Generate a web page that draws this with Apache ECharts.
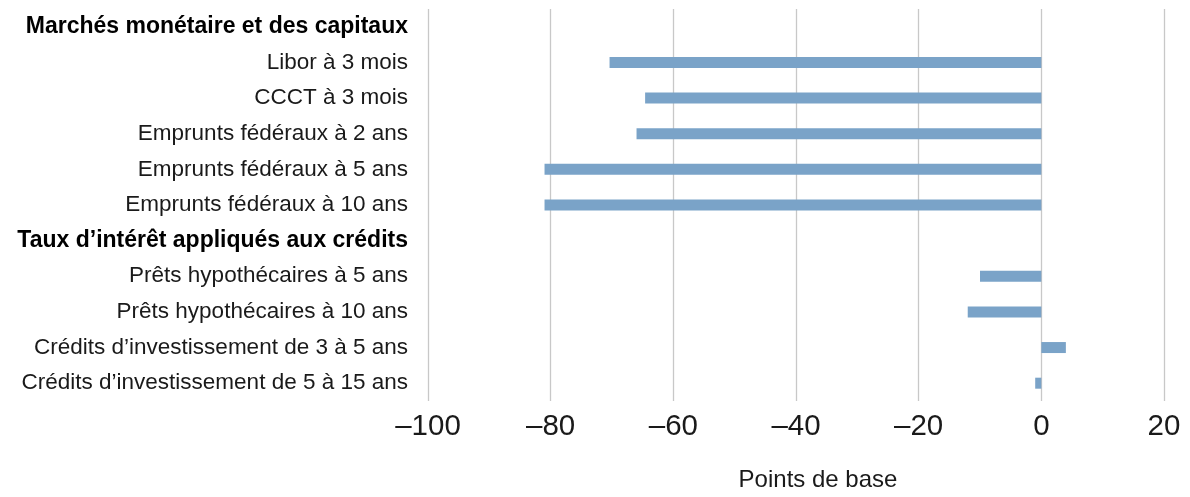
<!DOCTYPE html>
<html>
<head>
<meta charset="utf-8">
<script src="https://cdn.jsdelivr.net/npm/echarts@6/dist/echarts.min.js"></script>
<style>html,body{margin:0;padding:0;background:#fff}#c{width:1190px;height:497px}</style>
</head>
<body>
<div id="c"></div>
<script>
var categories = [
  "Marchés monétaire et des capitaux",
  "Libor à 3 mois",
  "CCCT à 3 mois",
  "Emprunts fédéraux à 2 ans",
  "Emprunts fédéraux à 5 ans",
  "Emprunts fédéraux à 10 ans",
  "Taux d’intérêt appliqués aux crédits",
  "Prêts hypothécaires à 5 ans",
  "Prêts hypothécaires à 10 ans",
  "Crédits d’investissement de 3 à 5 ans",
  "Crédits d’investissement de 5 à 15 ans"
];
var headers = ["Marchés monétaire et des capitaux", "Taux d’intérêt appliqués aux crédits"];
var values = [null, -70.4, -64.6, -66, -81, -81, null, -10, -12, 4, -1];
var xTicks = { min: -100, max: 20, interval: 20 };
var axisName = "Points de base";

var FONT = '"Liberation Sans", Arial, sans-serif';
var chart = echarts.init(document.getElementById('c'));
chart.setOption({
  animation: false,
  grid: { left: 428, right: 26, top: 9, bottom: 90, containLabel: false },
  xAxis: {
    type: 'value',
    min: xTicks.min, max: xTicks.max, interval: xTicks.interval,
    axisLine: { show: false },
    axisTick: { show: false },
    splitLine: { show: true, lineStyle: { color: '#c8c8c8', width: 1.3 } },
    axisLabel: {
      margin: 11,
      fontFamily: FONT,
      fontSize: 29.5,
      color: '#1a1a1a',
      formatter: function (v) { return String(v).replace('-', '\u2013'); }
    },
    name: axisName,
    nameLocation: 'middle',
    nameGap: 67,
    nameTextStyle: {
      fontFamily: FONT,
      fontSize: 24,
      color: '#1a1a1a',
      padding: [0, 0, 0, 44]
    }
  },
  yAxis: {
    type: 'category',
    inverse: true,
    data: categories,
    axisLine: { show: false },
    axisTick: { show: false },
    splitLine: { show: false },
    axisLabel: {
      margin: 20,
      interval: 0,
      formatter: function (v) {
        return headers.indexOf(v) >= 0 ? '{b|' + v + '}' : '{n|' + v + '}';
      },
      rich: {
        n: { fontFamily: FONT, fontSize: 22.5, color: '#1a1a1a' },
        b: { fontFamily: FONT, fontWeight: 'bold', fontSize: 23, color: '#000' }
      }
    }
  },
  series: [{
    type: 'bar',
    data: values,
    barWidth: 11,
    itemStyle: { color: '#7aa3c8' }
  }]
});
</script>
</body>
</html>
